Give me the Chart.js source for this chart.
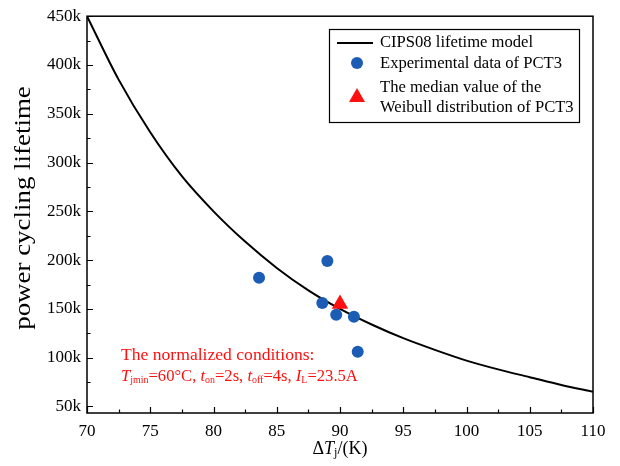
<!DOCTYPE html>
<html>
<head>
<meta charset="utf-8">
<script src="https://cdn.jsdelivr.net/npm/chart.js@4.4.1/dist/chart.umd.min.js"></script>
<style>
  body { margin: 0; background: #fff; }
  canvas { display: block; }
</style>
</head>
<body>
<canvas id="lifetime-chart" width="620" height="466"></canvas>
<script>
// model curve (x = dTj in K, y = cycles in k)
const modelDT = [70, 72.5, 75, 77.5, 80, 82.5, 85, 87.5, 90, 92.5, 95, 97.5, 100, 102.5, 105, 107.5, 110];
const modelN = [450, 385, 331, 286, 250, 219, 192, 169, 150, 134, 120, 108, 97, 88, 80, 72, 65];

// experimental points of PCT3
const expDT = [83.6, 89.0, 88.6, 89.7, 91.1, 91.4];
const expN = [182, 199, 156, 144, 142, 106];

// median of the Weibull distribution
const medDT = [90.0];
const medN = [155];

// axis ticks
const xTickVals = [70, 72.5, 75, 77.5, 80, 82.5, 85, 87.5, 90, 92.5, 95, 97.5, 100, 102.5, 105, 107.5, 110];
const xTickLabels = ['70', '', '75', '', '80', '', '85', '', '90', '', '95', '', '100', '', '105', '', '110'];
const yTickVals = [50, 75, 100, 125, 150, 175, 200, 225, 250, 275, 300, 325, 350, 375, 400, 425, 450];
const yTickLabels = ['50k', '', '100k', '', '150k', '', '200k', '', '250k', '', '300k', '', '350k', '', '400k', '', '450k'];

const serif = "'Liberation Serif', 'Times New Roman', serif";
const blue = '#1b5cb4';
const red = '#ff1010';

function toPoints(xs, ys) {
  return xs.map((v, i) => ({ x: v, y: ys[i] }));
}

// draws rich text pieces: [text, italic, sub]
function richText(ctx, parts, x, y, size, subScale) {
  let cx = x;
  parts.forEach(p => {
    const sz = p[2] ? size * subScale : size;
    ctx.font = (p[1] ? 'italic ' : '') + sz + 'px ' + serif;
    ctx.fillText(p[0], cx, p[2] ? y + size * 0.22 : y);
    cx += ctx.measureText(p[0]).width;
  });
  return cx - x;
}
function richWidth(ctx, parts, size, subScale) {
  let w = 0;
  parts.forEach(p => {
    const sz = p[2] ? size * subScale : size;
    ctx.font = (p[1] ? 'italic ' : '') + sz + 'px ' + serif;
    w += ctx.measureText(p[0]).width;
  });
  return w;
}

const decor = {
  id: 'decor',
  afterDraw(chart) {
    const ctx = chart.ctx;
    const a = chart.chartArea;
    const x = chart.scales.x, y = chart.scales.y;
    ctx.save();

    // frame
    ctx.strokeStyle = '#000';
    ctx.lineWidth = 1.5;
    ctx.strokeRect(a.left, a.top, a.right - a.left, a.bottom - a.top);

    // inward ticks
    ctx.lineWidth = 1.2;
    ctx.beginPath();
    xTickVals.forEach((v, i) => {
      const px = Math.round(x.getPixelForValue(v)) + 0.5;
      const len = xTickLabels[i] ? 6 : 3.5;
      ctx.moveTo(px, a.bottom);
      ctx.lineTo(px, a.bottom - len);
    });
    yTickVals.forEach((v, i) => {
      const py = Math.round(y.getPixelForValue(v)) + 0.5;
      const len = yTickLabels[i] ? 6 : 3.5;
      ctx.moveTo(a.left, py);
      ctx.lineTo(a.left + len, py);
    });
    ctx.stroke();

    ctx.fillStyle = '#000';
    ctx.textBaseline = 'middle';

    // x title
    const xt = [['\u0394', false, false], ['T', true, false], ['j', false, true], ['/(K)', false, false]];
    const xw = richWidth(ctx, xt, 18, 0.68);
    richText(ctx, xt, (a.left + a.right) / 2 - xw / 2, 449, 18, 0.68);

    // y title (the reference type is a bit stretched along the text)
    ctx.save();
    ctx.translate(24, 208);
    ctx.rotate(-Math.PI / 2);
    ctx.scale(1.17, 1);
    ctx.font = '23px ' + serif;
    ctx.textAlign = 'center';
    ctx.fillText('power cycling lifetime', 0, 0);
    ctx.restore();

    // legend box
    ctx.lineWidth = 1.2;
    ctx.strokeRect(329.5, 29.5, 250, 93);
    ctx.lineWidth = 2;
    ctx.beginPath();
    ctx.moveTo(337, 43);
    ctx.lineTo(373, 43);
    ctx.stroke();
    ctx.fillStyle = blue;
    ctx.beginPath();
    ctx.arc(357, 63, 6, 0, Math.PI * 2);
    ctx.fill();
    ctx.fillStyle = red;
    ctx.beginPath();
    ctx.moveTo(357, 88);
    ctx.lineTo(365, 102);
    ctx.lineTo(349, 102);
    ctx.closePath();
    ctx.fill();
    ctx.fillStyle = '#000';
    ctx.font = '16.6px ' + serif;
    ctx.fillText('CIPS08 lifetime model', 380, 43);
    ctx.fillText('Experimental data of PCT3', 380, 64);
    ctx.fillText('The median value of the', 380, 88);
    ctx.fillText('Weibull distribution of PCT3', 380, 108);

    // conditions note
    ctx.fillStyle = red;
    ctx.font = '17.6px ' + serif;
    ctx.fillText('The normalized conditions:', 121, 355);
    richText(ctx, [
      ['T', true, false], ['jmin', false, true], ['=60\u00b0C, ', false, false],
      ['t', true, false], ['on', false, true], ['=2s, ', false, false],
      ['t', true, false], ['off', false, true], ['=4s, ', false, false],
      ['I', true, false], ['L', false, true], ['=23.5A', false, false]
    ], 121, 377, 16.6, 0.6);

    ctx.restore();
  }
};

const lifetimeCanvas = document.getElementById('lifetime-chart');
const lifetimeChart = new Chart(lifetimeCanvas, {
  type: 'scatter',
  data: {
    datasets: [{
      label: 'CIPS08 lifetime model',
      type: 'line',
      data: toPoints(modelDT, modelN),
      borderColor: '#000',
      borderWidth: 2,
      pointRadius: 0,
      fill: false,
      cubicInterpolationMode: 'monotone',
      order: 3
    }, {
      label: 'Experimental data of PCT3',
      data: toPoints(expDT, expN),
      backgroundColor: blue,
      borderColor: blue,
      borderWidth: 0,
      pointRadius: 6,
      order: 2
    }, {
      label: 'The median value of the Weibull distribution of PCT3',
      data: toPoints(medDT, medN),
      pointStyle: 'triangle',
      backgroundColor: red,
      borderColor: red,
      borderWidth: 0,
      pointRadius: 9.5,
      order: 1
    }]
  },
  options: {
    responsive: false,
    animation: false,
    layout: { padding: { top: 12, right: 27, left: 0, bottom: 0 } },
    plugins: {
      legend: { display: false },
      tooltip: { enabled: false }
    },
    scales: {
      x: {
        type: 'linear',
        min: 70,
        max: 110,
        grid: { display: false, drawTicks: false },
        border: { display: false },
        afterBuildTicks: scale => { scale.ticks = xTickVals.map(v => ({ value: v })); },
        afterFit: scale => { scale.height = 53; },
        ticks: {
          autoSkip: false,
          maxRotation: 0,
          padding: 8,
          color: '#000',
          font: { family: serif, size: 17 },
          callback: (v, i) => xTickLabels[i]
        }
      },
      y: {
        type: 'linear',
        min: 43.3,
        max: 450,
        grid: { display: false, drawTicks: false },
        border: { display: false },
        afterBuildTicks: scale => { scale.ticks = yTickVals.map(v => ({ value: v })); },
        afterFit: scale => { scale.width = 87; },
        ticks: {
          autoSkip: false,
          padding: 6,
          color: '#000',
          font: { family: serif, size: 17 },
          callback: (v, i) => yTickLabels[i]
        }
      }
    }
  },
  plugins: [decor]
});
</script>
</body>
</html>
